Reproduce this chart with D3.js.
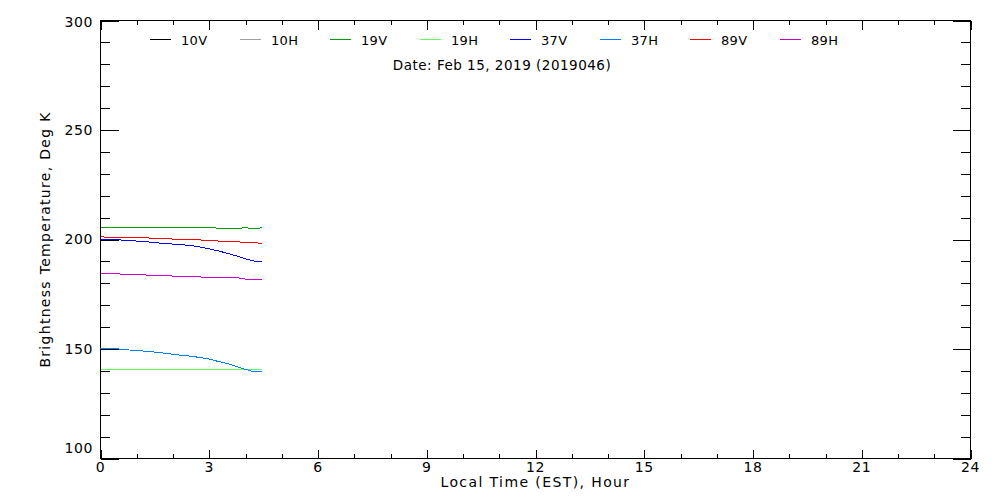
<!DOCTYPE html>
<html>
<head>
<meta charset="utf-8">
<script src="https://cdn.jsdelivr.net/npm/d3@7"></script>
<style>
  body { margin: 0; background: #fff; }
  svg text { font-family: "DejaVu Sans", sans-serif; fill: #000; }
</style>
</head>
<body>
<div id="chart"></div>
<script>
// hours of local time (EST) at which the brightness temperatures were sampled
var hours = [0, 0.25, 0.5, 0.75, 1, 1.25, 1.5, 1.75, 2, 2.25, 2.5, 2.75, 3, 3.25, 3.5, 3.75, 4, 4.25, 4.45];

// brightness temperatures, Deg K (10 GHz channels have no data on this day)
var tb10v = [];
var tb10h = [];
var tb19v = [205.4, 205.4, 205.4, 205.4, 205.4, 205.4, 205.4, 205.4, 205.4, 205.4, 205.4, 205.4, 205.4, 205.2, 204.9, 205.0, 205.4, 204.9, 205.4];
var tb19h = [140.8, 140.8, 140.8, 140.8, 140.8, 140.8, 140.8, 140.8, 140.8, 140.8, 140.8, 140.8, 140.8, 140.8, 140.8, 140.8, 140.8, 140.8, 140.8];
var tb37v = [200.1, 199.9, 199.8, 199.7, 199.3, 199.0, 198.6, 198.2, 197.9, 197.6, 197.2, 196.6, 195.7, 194.8, 193.7, 192.5, 191.2, 190.1, 189.9];
var tb37h = [150.4, 150.2, 150.0, 149.6, 149.3, 149.0, 148.6, 148.1, 147.6, 147.1, 146.7, 146.1, 145.4, 144.3, 143.4, 142.0, 140.7, 139.5, 139.5];
var tb89v = [201.3, 200.9, 200.9, 200.9, 200.9, 200.8, 200.4, 200.4, 200.2, 200.0, 200.0, 199.8, 199.5, 199.3, 199.1, 199.0, 198.6, 198.6, 198.2];
var tb89h = [184.5, 184.5, 184.3, 184.0, 184.0, 183.8, 183.6, 183.6, 183.3, 183.1, 183.1, 182.9, 182.7, 182.7, 182.7, 182.6, 181.9, 181.8, 181.8];

var channels = ["10V", "10H", "19V", "19H", "37V", "37H", "89V", "89H"];
var channelValues = [tb10v, tb10h, tb19v, tb19h, tb37v, tb37h, tb89v, tb89h];

var xMajorTicks = [0, 3, 6, 9, 12, 15, 18, 21, 24];
var xMinorTicks = d3.range(0, 25, 1);
var yMajorTicks = [100, 150, 200, 250, 300];
var yMinorTicks = d3.range(100, 301, 10);
var dateLabel = "Date: Feb 15, 2019 (2019046)";

// colours per channel
var colors = {
    "10V": "#000000", "10H": "#a0a0a0",
    "19V": "#00a000", "19H": "#60ff60",
    "37V": "#0000ff", "37H": "#0080ff",
    "89V": "#ff0000", "89H": "#cc00cc"
};

var width = 1000, height = 500;
var plotLeft = 100.5, plotRight = 970.5, plotTop = 20.5, plotBottom = 458.5;

var svg = d3.select("#chart").append("svg")
    .attr("width", width)
    .attr("height", height);

var x = d3.scaleLinear().domain([0, 24]).range([plotLeft, plotRight]);
var y = d3.scaleLinear().domain([100, 300]).range([plotBottom, plotTop]);

// ---- axes: ticks point into the plot on all four sides ----
function tickAxis(axis, size) {
    return axis.tickSizeInner(size).tickSizeOuter(0).tickFormat("");
}

var axes = svg.append("g").attr("class", "axes")
    .style("shape-rendering", "crispEdges");

axes.append("g").attr("transform", "translate(0," + plotBottom + ")")
    .call(tickAxis(d3.axisBottom(x).tickValues(xMinorTicks), -4.5));
axes.append("g").attr("transform", "translate(0," + plotBottom + ")")
    .call(tickAxis(d3.axisBottom(x).tickValues(xMajorTicks), -9));
axes.append("g").attr("transform", "translate(0," + plotTop + ")")
    .call(tickAxis(d3.axisTop(x).tickValues(xMinorTicks), -4.5));
axes.append("g").attr("transform", "translate(0," + plotTop + ")")
    .call(tickAxis(d3.axisTop(x).tickValues(xMajorTicks), -9));

axes.append("g").attr("transform", "translate(" + plotLeft + ",0)")
    .call(tickAxis(d3.axisLeft(y).tickValues(yMinorTicks), -9.5));
axes.append("g").attr("transform", "translate(" + plotLeft + ",0)")
    .call(tickAxis(d3.axisLeft(y).tickValues(yMajorTicks), -18));
axes.append("g").attr("transform", "translate(" + plotRight + ",0)")
    .call(tickAxis(d3.axisRight(y).tickValues(yMinorTicks), -9.5));
axes.append("g").attr("transform", "translate(" + plotRight + ",0)")
    .call(tickAxis(d3.axisRight(y).tickValues(yMajorTicks), -18));

axes.selectAll(".domain").remove();
axes.selectAll(".tick line").attr("stroke", "#000");

// plot frame
axes.append("rect")
    .attr("x", plotLeft).attr("y", plotTop)
    .attr("width", plotRight - plotLeft).attr("height", plotBottom - plotTop)
    .attr("fill", "none")
    .attr("stroke", "#000");

// tick labels
svg.append("g").selectAll("text")
    .data(xMajorTicks)
    .enter().append("text")
    .attr("x", function (d) { return x(d); })
    .attr("y", 472)
    .attr("text-anchor", "middle")
    .style("font-size", "14px")
    .style("letter-spacing", "0.6px")
    .text(function (d) { return d; });

svg.append("g").selectAll("text")
    .data(yMajorTicks)
    .enter().append("text")
    .attr("x", 93)
    .attr("y", function (d) {
        // first and last labels are pulled inside the axis range
        if (d === 300) return y(d) + 6.5;
        if (d === 100) return y(d) - 6;
        return y(d) + 4.5;
    })
    .attr("text-anchor", "end")
    .style("font-size", "14px")
    .style("letter-spacing", "0.6px")
    .text(function (d) { return d; });

// axis titles
svg.append("text")
    .attr("x", (plotLeft + plotRight) / 2)
    .attr("y", 487)
    .attr("text-anchor", "middle")
    .style("font-size", "14px")
    .style("letter-spacing", "1.4px")
    .text("Local Time (EST), Hour");

svg.append("text")
    .attr("transform", "translate(50," + (plotTop + plotBottom) / 2 + ") rotate(-90)")
    .attr("text-anchor", "middle")
    .style("font-size", "14px")
    .style("letter-spacing", "1.3px")
    .text("Brightness Temperature, Deg K");

// ---- data lines ----
var line = d3.line()
    .x(function (d) { return x(d.hour); })
    .y(function (d) { return y(d.tb); });

var series = channels.map(function (name, i) {
    return {
        name: name,
        values: channelValues[i].map(function (v, j) {
            return { hour: hours[j], tb: v };
        })
    };
});

svg.append("g").selectAll("path")
    .data(series.filter(function (s) { return s.values.length > 0; }))
    .enter().append("path")
    .attr("d", function (d) { return line(d.values); })
    .attr("fill", "none")
    .attr("stroke", function (d) { return colors[d.name]; })
    .attr("stroke-width", 1)
    .style("shape-rendering", "crispEdges");

// ---- legend ----
var legend = svg.append("g").selectAll("g")
    .data(channels)
    .enter().append("g")
    .attr("transform", function (d, i) { return "translate(" + (150 + i * 90) + ",0)"; });

legend.append("line")
    .attr("x1", 0).attr("x2", 21)
    .attr("y1", 39.5).attr("y2", 39.5)
    .attr("stroke", function (d) { return colors[d]; })
    .style("shape-rendering", "crispEdges");

legend.append("text")
    .attr("x", 31)
    .attr("y", 45)
    .style("font-size", "13px")
    .style("letter-spacing", "0.3px")
    .text(function (d) { return d; });

svg.append("text")
    .attr("x", 502)
    .attr("y", 70)
    .attr("text-anchor", "middle")
    .style("font-size", "13.5px")
    .style("letter-spacing", "0.5px")
    .text(dateLabel);
</script>
</body>
</html>
